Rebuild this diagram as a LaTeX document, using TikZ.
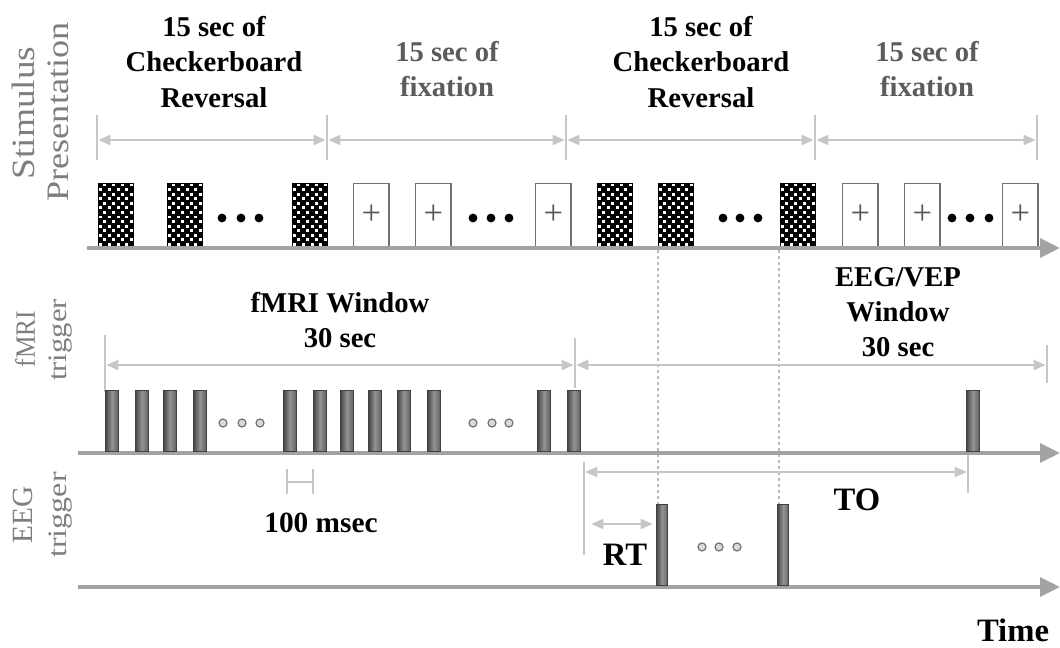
\documentclass[tikz,border=0pt]{standalone}
\usepackage{fontspec}
\setmainfont{Liberation Serif}
\usetikzlibrary{arrows.meta}
\definecolor{axisgray}{HTML}{A2A2A2}
\definecolor{dimgray}{HTML}{C6C6C6}
\definecolor{labgray}{HTML}{7E7E7E}
\definecolor{fixgray}{HTML}{5C5C5C}
\definecolor{boxgray}{HTML}{707070}
\newcommand\tlfont{\fontsize{21.5}{26.5}\selectfont\bfseries}
\newcommand\bigfont{\fontsize{24.5}{28}\selectfont\bfseries}
\begin{document}
\begin{tikzpicture}[x=0.75pt,y=-0.75pt,
  axis/.style={draw=axisgray,line width=3.2pt,-{Triangle[length=15pt,width=14pt]}},
  dim/.style={draw=dimgray,line width=1.6pt,{Triangle[length=9pt,width=7.5pt]}-{Triangle[length=9pt,width=7.5pt]},shorten <=1pt,shorten >=1pt},
  tick/.style={draw=dimgray,line width=1.1pt},
  dashline/.style={draw=black!28,line width=0.8pt,dash pattern=on 2pt off 2.5pt},
  checkbox/.style={anchor=south west,inner sep=0,minimum width=26.5pt,minimum height=48pt,fill=black,
    path picture={
      \foreach \i in {0,...,7}{\foreach \j in {0,...,13}{
        \pgfmathtruncatemacro\k{mod(\i+\j,2)}
        \ifnum\k=0
          \fill[white] ([shift={(\i*3.31pt+0.55pt,\j*3.43pt+0.6pt)}]path picture bounding box.south west) rectangle ++(2.2pt,2.2pt);
        \fi}}
    }},
  fixbox/.style={anchor=south west,inner sep=0,minimum width=26.5pt,minimum height=47pt,draw=boxgray,line width=1.1pt,fill=white,
    text=black!65,font=\fontsize{26}{26}\selectfont},
  trig/.style={anchor=south west,inner sep=0,minimum width=9.5pt,minimum height=45.5pt,draw=black!75,line width=0.8pt,
    left color=black!72,right color=black!62,middle color=black!42},
  bdot/.style={circle,fill=black,inner sep=0,minimum size=6.6pt},
  odot/.style={circle,draw=black!55,fill=black!15,line width=0.9pt,inner sep=0,minimum size=6pt},
  title/.style={align=center,font=\tlfont,inner sep=0},
  big/.style={font=\bigfont,inner sep=0},
  sidelab/.style={rotate=90,text=labgray,inner sep=0}
]
\useasboundingbox (0,0) rectangle (1060,648);

% ---------- side labels ----------
\node[sidelab] (sl1) at (23,113) {\scalebox{1.22}[1.06]{\fontsize{23}{23}\selectfont Stimulus}};
\node[sidelab] (sl2) at (58,112) {\scalebox{1.18}[1.02]{\fontsize{23}{23}\selectfont Presentation}};
\node[sidelab] (sl3) at (25,339) {\scalebox{0.95}[1.05]{\fontsize{20}{20}\selectfont fMRI}};
\node[sidelab] (sl4) at (61,340) {\scalebox{1.15}[1]{\fontsize{20}{20}\selectfont trigger}};
\node[sidelab] (sl5) at (23,515) {\fontsize{22}{22}\selectfont EEG};
\node[sidelab] (sl6) at (61,515) {\scalebox{1.2}[1]{\fontsize{20}{20}\selectfont trigger}};

% ---------- titles ----------
\node[title] (lab1) at (214,62) {15 sec of\\Checkerboard\\Reversal};
\node[title,text=fixgray] (lab2) at (447,69) {15 sec of\\fixation};
\node[title] (lab3) at (701,62) {15 sec of\\Checkerboard\\Reversal};
\node[title,text=fixgray] (lab4) at (927,69) {15 sec of\\fixation};

% ---------- top dimension lines ----------
\foreach \n/\x in {1/97,2/327,3/566,4/815,5/1037}{
  \coordinate (ta\n) at (\x,115);
  \coordinate (tb\n) at (\x,160);
  \coordinate (tm\n) at (\x,140);
  \draw[tick] (ta\n) -- (tb\n);
}
\draw[dim] (tm1) -- (tm2);
\draw[dim] (tm2) -- (tm3);
\draw[dim] (tm3) -- (tm4);
\draw[dim] (tm4) -- (tm5);

% ---------- stimulus row ----------
\coordinate (sa0) at (87,248);
\coordinate (sa1) at (1060,248);
\foreach \n/\x in {1/98,2/167,3/292,4/597,5/658,6/780}{
  \node[checkbox] (c\n) at (\x,247) {};
}
\foreach \n/\x in {1/353,2/415,3/535,4/842,5/904,6/1002}{
  \node[fixbox] (f\n) at (\x,247) {+};
}
\foreach \n/\x in {1/222,2/241,3/259,4/473,5/491,6/509,7/723,8/740,9/758,10/952,11/970,12/989}{
  \node[bdot] (d\n) at (\x,218) {};
}
\draw[axis] (sa0) -- (sa1);

% ---------- dashed guide lines ----------
\coordinate (g1a) at (658,250);
\coordinate (g1b) at (658,506);
\coordinate (g2a) at (779,250);
\coordinate (g2b) at (779,506);
\draw[dashline] (g1a) -- (g1b);
\draw[dashline] (g2a) -- (g2b);

% ---------- fMRI row ----------
\node[title] (fw) at (340,320) {fMRI Window\\30 sec};
\node[title] (ew) at (898,312) {EEG/VEP\\Window\\30 sec};
\coordinate (wa1) at (105,335);
\coordinate (wb1) at (105,392);
\coordinate (wm1) at (105,365);
\coordinate (wa2) at (575,338);
\coordinate (wb2) at (575,388);
\coordinate (wm2) at (575,365);
\coordinate (wa3) at (1047,345);
\coordinate (wb3) at (1047,383);
\coordinate (wm3) at (1047,365);
\draw[tick] (wa1) -- (wb1);
\draw[tick] (wa2) -- (wb2);
\draw[tick] (wa3) -- (wb3);
\draw[dim] (wm1) -- (wm2);
\draw[dim] (wm2) -- (wm3);

\coordinate (fa0) at (78,453);
\coordinate (fa1) at (1060,453);
\draw[axis] (fa0) -- (fa1);
\foreach \n/\x in {1/105,2/135,3/163,4/193,5/283,6/313,7/340,8/368,9/397,10/427,11/537,12/567,13/966}{
  \node[trig] (b\n) at (\x,452) {};
}
\foreach \n/\x in {1/223,2/242,3/260,4/473,5/492,6/509}{
  \node[odot] (o\n) at (\x,423) {};
}

% 100 msec marker
\coordinate (ma1) at (287,469);
\coordinate (mb1) at (287,494);
\coordinate (ma2) at (313,469);
\coordinate (mb2) at (313,494);
\coordinate (mm1) at (287,482);
\coordinate (mm2) at (313,482);
\draw[tick] (ma1) -- (mb1);
\draw[tick] (ma2) -- (mb2);
\draw[tick] (mm1) -- (mm2);
\node[font=\fontsize{22}{22}\selectfont\bfseries,inner sep=0] (ms) at (321,523) {100 msec};

% ---------- EEG row ----------
\coordinate (ea0) at (78,587);
\coordinate (ea1) at (1060,587);
\draw[axis] (ea0) -- (ea1);
\node[trig,minimum width=8.5pt,minimum height=60.5pt] (e1) at (656,586) {};
\node[trig,minimum width=8.5pt,minimum height=60.5pt] (e2) at (777,586) {};
\foreach \n/\x in {7/702,8/719,9/737}{
  \node[odot] (o\n) at (\x,547) {};
}
\coordinate (qa1) at (584,462);
\coordinate (qb1) at (584,555);
\coordinate (qm1) at (584,472);
\coordinate (qa2) at (968,455);
\coordinate (qb2) at (968,493);
\coordinate (qm2) at (968,472);
\draw[tick] (qa1) -- (qb1);
\draw[tick] (qa2) -- (qb2);
\draw[dim] (qm1) -- (qm2);
\coordinate (r1) at (590,524);
\coordinate (r2) at (654,524);
\draw[dim] (r1) -- (r2);
\node[big] (to) at (857,500) {TO};
\node[big] (rt) at (625,555) {RT};
\node[big] (time) at (1013,630) {Time};
\end{tikzpicture}
\end{document}
